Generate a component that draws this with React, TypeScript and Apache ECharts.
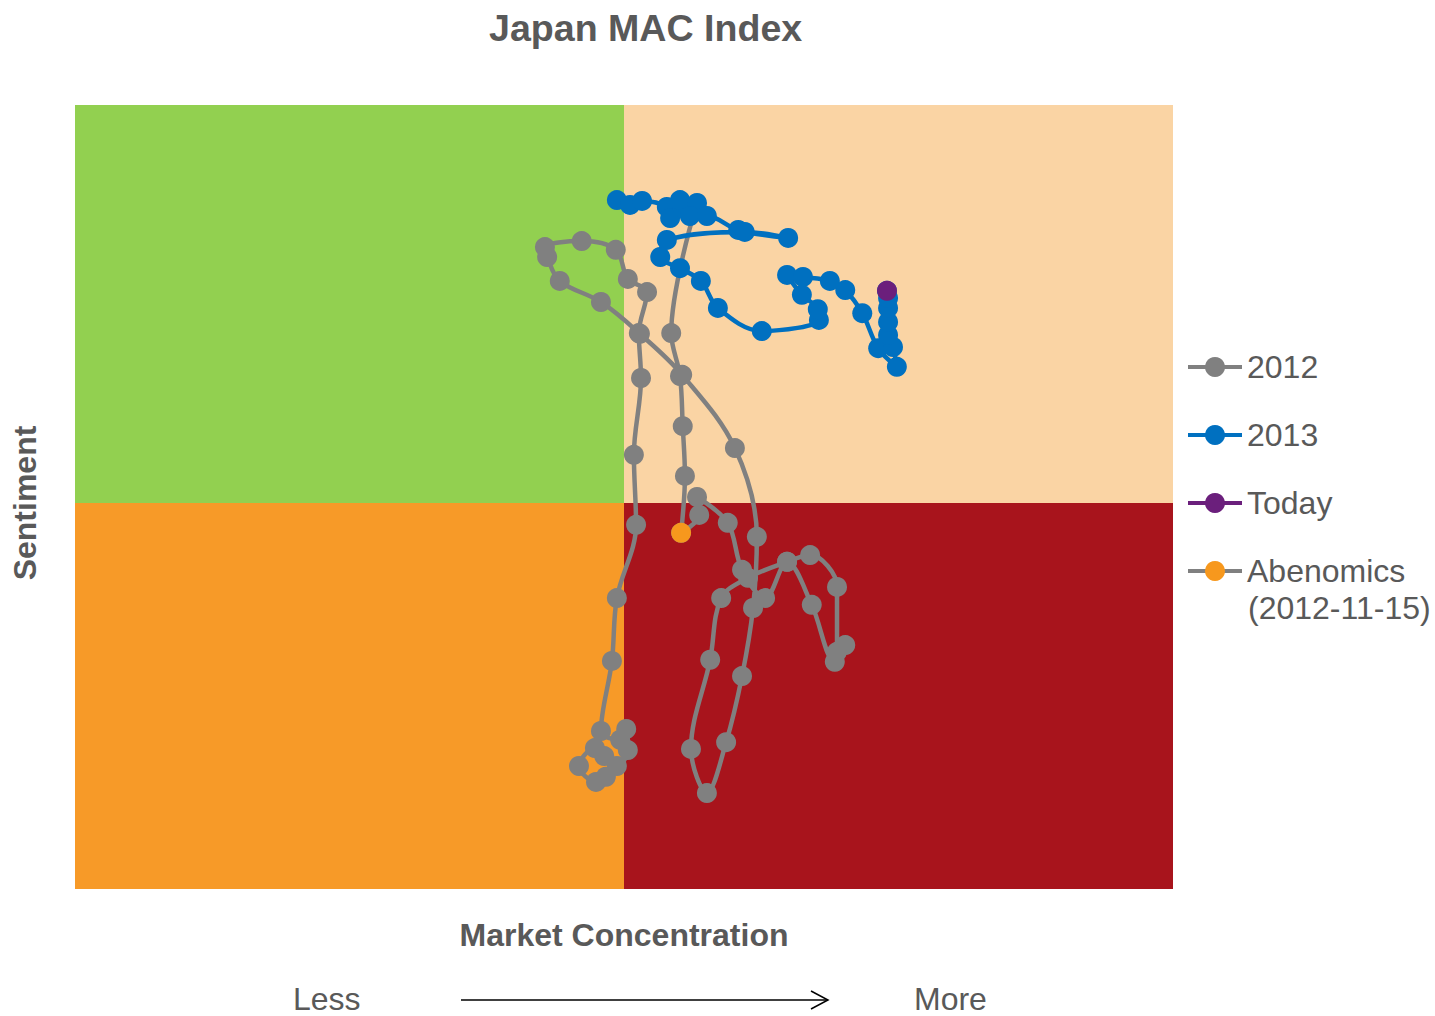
import React, { useEffect, useRef } from "react";
import * as echarts from "echarts";

// Market Concentration (x) vs Sentiment (y), index units
const series2012: [number, number][] = [
  [-3.3, -68.8], [-5.1, -70.1], [-8.2, -66.1], [-5.3, -61.6], [-3.6, -63.6],
  [-1.3, -66.1], [0.7, -62.1], [0.4, -56.8], [-0.7, -59.5], [-4.2, -57.3],
  [-2.2, -39.7], [-1.3, -23.9], [2.2, -5.5], [1.8, 12.1], [3.1, 31.4],
  [2.7, 42.7], [4.2, 53.0], [0.7, 56.3], [-1.5, 63.6], [-7.7, 65.8],
  [-14.4, 64.3], [-14.0, 61.8], [-11.7, 55.8], [-4.2, 50.5], [2.9, 42.5],
  [10.6, 32.2], [20.2, 13.8], [24.2, -8.5], [23.5, -26.4], [21.5, -43.5],
  [18.6, -60.1], [15.1, -72.9], [12.2, -61.8], [15.7, -39.4], [17.7, -23.9],
  [22.6, -18.8], [29.7, -14.8], [33.9, -13.1], [38.8, -21.1], [38.8, -37.4],
  [40.3, -35.7], [38.4, -39.9], [34.2, -25.6], [29.7, -14.8], [25.7, -23.9],
  [21.5, -16.8], [18.9, -5.0], [13.3, 1.5], [13.7, -3.0], [10.4, -7.5],
  [11.1, 6.8], [10.7, 19.3], [10.2, 31.9], [8.6, 42.7], [12.8, 73.1],
];

const series2013: [number, number][] = [
  [-1.3, 76.1], [1.1, 74.9], [3.3, 75.9], [7.8, 74.4], [8.4, 71.6],
  [10.7, 74.1], [10.2, 76.1], [13.3, 75.4], [12.0, 72.1], [15.1, 72.1],
  [20.8, 68.6], [29.9, 66.6], [22.0, 68.1], [7.8, 66.1], [6.6, 61.8],
  [10.2, 59.0], [14.0, 55.8], [17.1, 49.0], [25.1, 43.2], [35.5, 46.0],
  [35.3, 48.7], [32.4, 52.3], [29.7, 57.3], [32.6, 56.8], [37.5, 55.8],
  [40.3, 53.5], [43.4, 47.7], [46.3, 38.9], [49.7, 34.2], [49.0, 39.2],
  [48.1, 42.2], [48.1, 45.5], [48.1, 49.0], [48.1, 51.5], [47.9, 53.3],
];

const abenomicsPoint: [number, number][] = [[10.4, -7.5]];
const todayPoint: [number, number][] = [[47.9, 53.3]];

const legendNames = ["2012", "2013", "Today", "Abenomics"];
const xRange = [-100, 100];
const yRange = [-97, 100];

const FONT = "'Liberation Sans', Arial, sans-serif";
const TEXT = "#595959";

export default function App() {
  const ref = useRef<HTMLDivElement>(null);
  useEffect(() => {
    if (!ref.current) return;
    const chart = echarts.init(ref.current, null, { renderer: "svg" });
    const quad = (x0: number, y0: number, x1: number, y1: number, color: string) => [
      { coord: [x0, y0], itemStyle: { color, opacity: 1 } },
      { coord: [x1, y1] },
    ];
    chart.setOption({
      animation: false,
      backgroundColor: "#ffffff",
      title: {
        text: "Japan MAC Index",
        left: 484,
        top: 4,
        textStyle: { fontFamily: FONT, fontSize: 37.6, fontWeight: "bold", color: TEXT },
      },
      grid: { left: 75, top: 105, width: 1098, height: 784 },
      xAxis: {
        type: "value",
        min: xRange[0],
        max: xRange[1],
        name: "Market Concentration",
        nameLocation: "middle",
        nameGap: 30,
        nameTextStyle: { fontFamily: FONT, fontSize: 32, fontWeight: "bold", color: TEXT },
        axisLine: { show: false },
        axisTick: { show: false },
        axisLabel: { show: false },
        splitLine: { show: false },
      },
      yAxis: {
        type: "value",
        min: yRange[0],
        max: yRange[1],
        axisLine: { show: false },
        axisTick: { show: false },
        axisLabel: { show: false },
        splitLine: { show: false },
      },
      legend: {
        data: legendNames,
        orient: "vertical",
        left: 1181,
        top: 344,
        itemWidth: 54,
        itemHeight: 25,
        itemGap: 32,
        lineStyle: { width: 4 },
        textStyle: { fontFamily: FONT, fontSize: 32, color: TEXT, lineHeight: 36 },
      },
      graphic: [
        {
          type: "text",
          x: 25,
          y: 503,
          rotation: Math.PI / 2,
          style: {
            text: "Sentiment",
            font: `bold 32px ${FONT}`,
            fill: TEXT,
            align: "center",
            verticalAlign: "middle",
          },
        },
        {
          type: "text",
          x: 1248,
          y: 608,
          style: { text: "(2012-11-15)", font: `32px ${FONT}`, fill: TEXT, verticalAlign: "middle" },
        },
        {
          type: "text",
          x: 293,
          y: 999,
          style: { text: "Less", font: `32px ${FONT}`, fill: TEXT, verticalAlign: "middle" },
        },
        {
          type: "text",
          x: 914,
          y: 999,
          style: { text: "More", font: `32px ${FONT}`, fill: TEXT, verticalAlign: "middle" },
        },
        {
          type: "line",
          shape: { x1: 461, y1: 1000, x2: 828, y2: 1000 },
          style: { stroke: "#000000", lineWidth: 1.5 },
        },
        {
          type: "polyline",
          shape: { points: [[811, 991], [828, 1000], [811, 1009]] },
          style: { stroke: "#000000", lineWidth: 1.5, fill: null },
        },
      ],
      series: [
        {
          name: "quadrants",
          type: "line",
          data: [],
          silent: true,
          markArea: {
            silent: true,
            data: [
              quad(xRange[0], 0, 0, yRange[1], "#92D050"),
              quad(0, 0, xRange[1], yRange[1], "#FAD4A4"),
              quad(xRange[0], yRange[0], 0, 0, "#F79A28"),
              quad(0, yRange[0], xRange[1], 0, "#A8141C"),
            ],
          },
        },
        {
          name: "2012",
          type: "line",
          data: series2012,
          smooth: 0.35,
          symbol: "circle",
          symbolSize: 20,
          lineStyle: { color: "#808080", width: 4.5 },
          itemStyle: { color: "#808080" },
          z: 3,
        },
        {
          name: "2013",
          type: "line",
          data: series2013,
          smooth: 0.35,
          symbol: "circle",
          symbolSize: 20,
          lineStyle: { color: "#0070C0", width: 4.5 },
          itemStyle: { color: "#0070C0" },
          z: 4,
        },
        {
          name: "Abenomics",
          type: "line",
          data: abenomicsPoint,
          symbol: "circle",
          symbolSize: 20,
          lineStyle: { color: "#808080", width: 4.5 },
          itemStyle: { color: "#F7981D" },
          z: 5,
        },
        {
          name: "Today",
          type: "line",
          data: todayPoint,
          symbol: "circle",
          symbolSize: 20,
          lineStyle: { color: "#6B1F7C", width: 4.5 },
          itemStyle: { color: "#6B1F7C" },
          z: 6,
        },
      ],
    });
    return () => chart.dispose();
  }, []);
  return (
    <div
      ref={ref}
      style={{ position: "absolute", left: 0, top: 0, width: 1435, height: 1016 }}
    />
  );
}
